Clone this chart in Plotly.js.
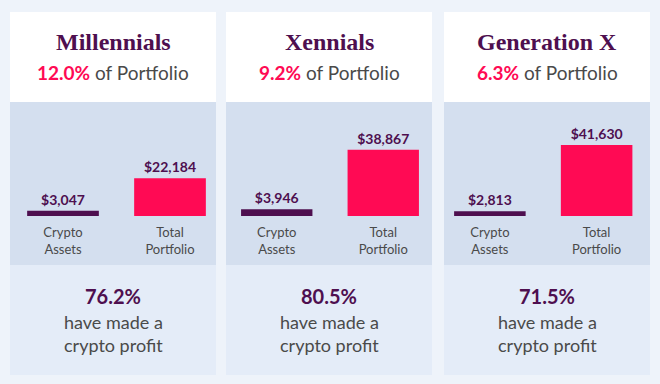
<!DOCTYPE html>
<html>
<head>
<meta charset="utf-8">
<script src="https://cdn.plot.ly/plotly-3.0.1.min.js"></script>
<style>html,body{margin:0;padding:0;background:#eef3fa;}#chart{width:660px;height:384px;}</style>
</head>
<body>
<div id="chart"></div>
<script>
const groups = ["Millennials", "Xennials", "Generation X"];
const portfolioShare = ["12.0%", "9.2%", "6.3%"];
const profitShare = ["76.2%", "80.5%", "71.5%"];
const categories = ["Crypto<br>Assets", "Total<br>Portfolio"];
const cryptoAssets = [3047, 3946, 2813];
const totalPortfolio = [22184, 38867, 41630];

const W = 660, H = 384;
const px = v => v / W;
const py = v => 1 - v / H;

const panelX = [[10, 216], [226, 432], [444, 650]];
const domX = [[9.5, 223.5], [223.5, 436.5], [436.5, 650]];
const purple = "#4e0f4f";
const pink = "#ff0a54";
const gray = "#4a4a4a";
const sans = "Lato, 'Open Sans', sans-serif";

const data = [];
const layout = {
  width: W, height: H,
  margin: {l: 0, r: 0, t: 0, b: 0},
  paper_bgcolor: "#eef3fa",
  plot_bgcolor: "rgba(0,0,0,0)",
  showlegend: false,
  bargap: 0.33,
  shapes: [],
  annotations: []
};

groups.forEach((g, i) => {
  const sfx = i === 0 ? "" : String(i + 1);
  data.push({
    type: "bar",
    x: categories,
    y: [cryptoAssets[i], totalPortfolio[i]],
    xaxis: "x" + sfx,
    yaxis: "y" + sfx,
    marker: {color: [purple, pink]},
    texttemplate: "$%{y:,}",
    textposition: "outside",
    cliponaxis: false,
    textfont: {family: sans, size: 14, color: purple, weight: 700},
    hoverinfo: "skip"
  });
  layout["xaxis" + sfx] = {
    domain: [px(domX[i][0]), px(domX[i][1])],
    anchor: "y" + sfx,
    showgrid: false, zeroline: false, showline: false,
    ticks: "",
    tickfont: {family: sans, size: 13, color: gray},
    ticklabelstandoff: 7,
    fixedrange: true
  };
  layout["yaxis" + sfx] = {
    domain: [py(216), py(102)],
    anchor: "x" + sfx,
    range: [0, 66900],
    visible: false,
    fixedrange: true
  };
  const [x0, x1] = panelX[i];
  layout.shapes.push(
    {type: "rect", xref: "paper", yref: "paper", x0: px(x0), x1: px(x1), y0: py(102), y1: py(12), fillcolor: "#ffffff", line: {width: 0}, layer: "below"},
    {type: "rect", xref: "paper", yref: "paper", x0: px(x0), x1: px(x1), y0: py(265), y1: py(102), fillcolor: "#d4dfef", line: {width: 0}, layer: "below"},
    {type: "rect", xref: "paper", yref: "paper", x0: px(x0), x1: px(x1), y0: py(375), y1: py(265), fillcolor: "#e4ecf8", line: {width: 0}, layer: "below"}
  );
  const cx = px((x0 + x1) / 2);
  const common = {xref: "paper", yref: "paper", xanchor: "center", yanchor: "middle", showarrow: false, x: cx};
  layout.annotations.push(
    Object.assign({}, common, {y: py(42), text: "<b>" + g + "</b>",
     font: {family: "'Liberation Serif', 'DejaVu Serif', serif", size: 24, color: purple}}),
    Object.assign({}, common, {y: py(72),
     text: "<span style='color:" + pink + "'><b>" + portfolioShare[i] + "</b></span> of Portfolio",
     font: {family: sans, size: 19, color: gray}}),
    Object.assign({}, common, {y: py(296), text: "<b>" + profitShare[i] + "</b>",
     font: {family: sans, size: 20, color: purple}}),
    Object.assign({}, common, {y: py(322), text: "have made a",
     font: {family: sans, size: 18, color: gray}}),
    Object.assign({}, common, {y: py(345), text: "crypto profit",
     font: {family: sans, size: 18, color: gray}})
  );
});

Plotly.newPlot("chart", data, layout, {displayModeBar: false, staticPlot: true});
</script>
</body>
</html>
